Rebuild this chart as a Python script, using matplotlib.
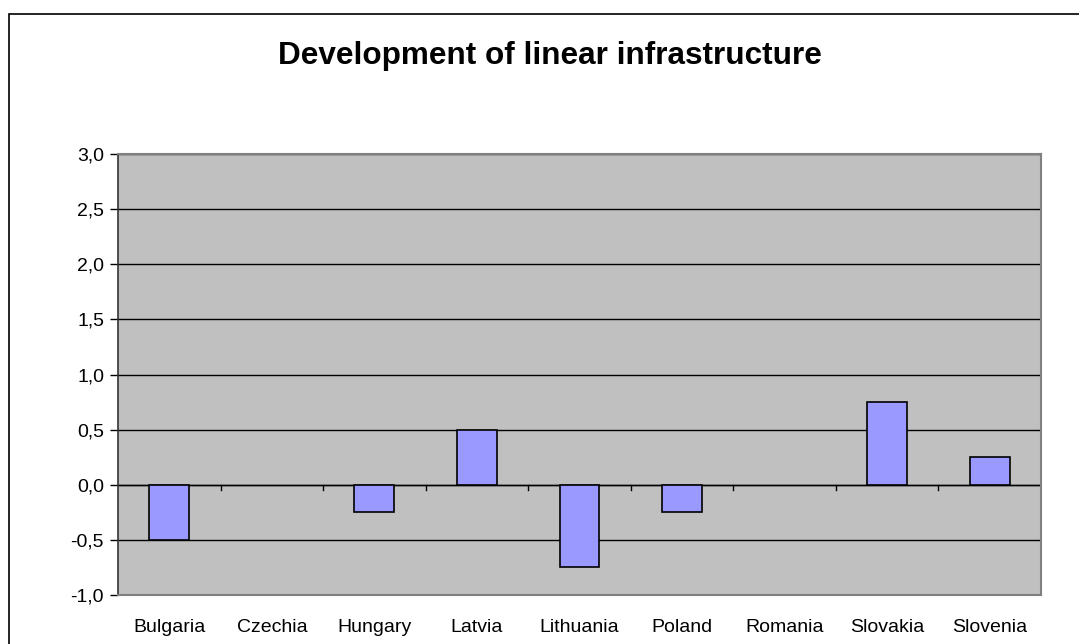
import matplotlib.pyplot as plt
from matplotlib.patches import Rectangle
from matplotlib.ticker import FuncFormatter, MultipleLocator

# Country categories and the change in linear infrastructure
countries = ['Bulgaria', 'Czechia', 'Hungary', 'Latvia', 'Lithuania',
             'Poland', 'Romania', 'Slovakia', 'Slovenia']
values = [-0.5, 0.0, -0.25, 0.5, -0.75, -0.25, 0.0, 0.75, 0.25]

plt.rcParams['font.family'] = ['Liberation Sans', 'DejaVu Sans']

W, H = 1079, 644
fig = plt.figure(figsize=(W / 100, H / 100), dpi=100)

# Outer chart border (runs off the right and bottom edges)
fig.patches.append(Rectangle((8.5 / W, -0.1), 1.2, 1.1 - 13.5 / H, transform=fig.transFigure,
                             fill=False, edgecolor='black', linewidth=1.2))

left, right, top, bottom = 118, 1041, 154, 595
ax = fig.add_axes([left / W, 1 - bottom / H, (right - left) / W, (bottom - top) / H])
ax.set_facecolor('#C0C0C0')

x = range(len(countries))
ax.bar(x, values, width=0.39, color='#9999FF', edgecolor='black',
       linewidth=[1.2 if v != 0 else 0 for v in values], zorder=3)

ax.set_xlim(-0.5, len(countries) - 0.5)
ax.set_ylim(-1.0, 3.0)
ax.yaxis.set_major_locator(MultipleLocator(0.5))
ax.yaxis.set_major_formatter(FuncFormatter(lambda v, p: f'{v:.1f}'.replace('.', ',')))
ax.grid(axis='y', color='black', linewidth=1.0, zorder=1)
ax.set_axisbelow(True)

# Zero line with category separator ticks
ax.axhline(0, color='black', linewidth=1.0, zorder=2)
for b in range(1, len(countries)):
    ax.plot([b - 0.5, b - 0.5], [0, -0.05], color='black', linewidth=1.0, zorder=2)

ax.set_xticks(list(x))
ax.set_xticklabels(countries)
ax.tick_params(axis='x', length=0, pad=17, labelsize=14)
ax.tick_params(axis='y', length=6, width=1.0, direction='out', pad=4, labelsize=14)

for side in ['top', 'right', 'bottom']:
    ax.spines[side].set_color('#808080')
    ax.spines[side].set_linewidth(1.5)
ax.spines['left'].set_color('#333333')
ax.spines['left'].set_linewidth(1.2)

fig.text(550 / W, 1 - 64 / H, 'Development of linear infrastructure',
         ha='center', va='baseline', fontsize=22.7, fontweight='bold')

fig.savefig('out.png', dpi=100)
